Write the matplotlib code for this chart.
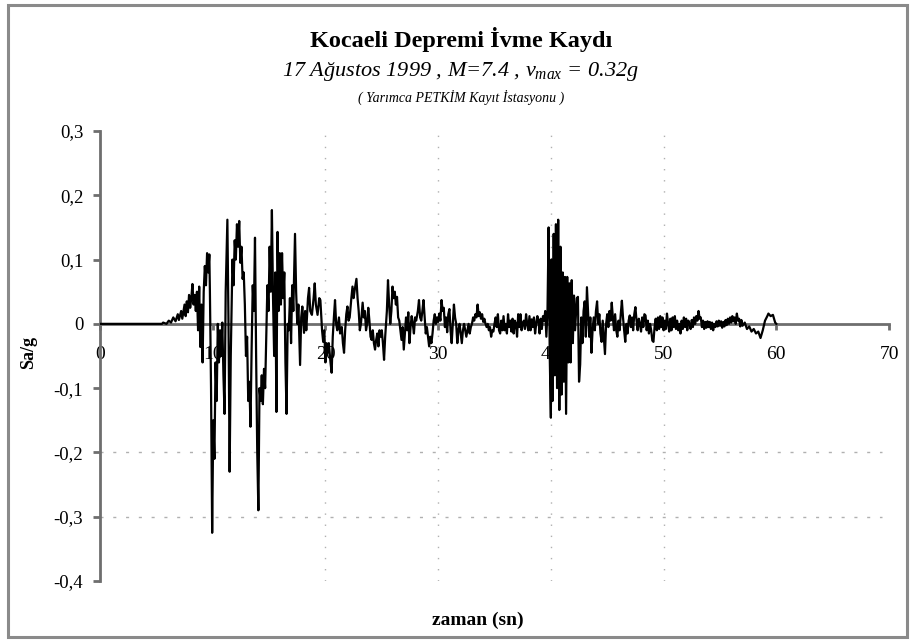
import matplotlib
matplotlib.use("Agg")
import matplotlib.pyplot as plt
from matplotlib.patches import Rectangle

# ---------------- data ----------------
# each segment: (time in s, acceleration in g)
quiet = [(0.0, 0.0), (5.5, 0.0)]

onset = [(5.6, 0.002), (5.9, 0.000), (6.1, 0.005), (6.3, 0.002), (6.5, 0.010), (6.7, 0.004),
         (6.9, 0.015), (7.0, 0.006), (7.2, 0.020), (7.3, 0.008), (7.5, 0.030), (7.6, 0.012),
         (7.7, 0.035), (7.8, 0.018), (7.9, 0.045), (8.0, 0.025), (8.1, 0.040), (8.2, 0.062),
         (8.3, 0.030), (8.4, 0.045), (8.5, 0.020), (8.6, 0.050), (8.7, -0.010), (8.8, 0.058),
         (8.9, -0.036), (9.0, 0.030), (9.1, -0.060), (9.2, 0.050), (9.3, 0.090), (9.4, 0.060),
         (9.5, 0.110), (9.6, 0.080), (9.7, 0.108)]

main_shock = [(9.75, 0.050), (9.85, -0.100), (9.95, -0.325), (10.05, -0.150), (10.15, -0.210),
              (10.25, -0.060), (10.35, -0.120), (10.45, 0.000), (10.55, -0.060), (10.65, -0.010),
              (10.75, -0.050), (10.85, 0.002), (10.95, -0.080), (11.05, -0.140), (11.15, 0.050),
              (11.3, 0.162), (11.4, 0.000), (11.5, -0.230), (11.6, -0.050), (11.75, 0.100),
              (11.85, 0.060), (11.95, 0.130), (12.05, 0.100), (12.15, 0.155), (12.25, 0.120),
              (12.35, 0.160), (12.45, 0.095), (12.55, 0.120), (12.65, 0.070), (12.75, 0.080),
              (12.85, 0.030), (12.95, -0.050), (13.05, -0.020), (13.15, -0.120), (13.25, -0.090),
              (13.35, -0.160), (13.45, -0.040), (13.55, 0.060), (13.65, 0.020), (13.75, 0.134),
              (13.85, -0.050), (13.95, -0.200), (14.05, -0.290), (14.15, -0.100), (14.25, -0.120),
              (14.35, -0.080), (14.45, -0.125), (14.55, -0.070), (14.65, -0.100), (14.75, -0.020),
              (14.85, 0.060), (14.95, 0.020), (15.05, 0.120), (15.15, 0.050), (15.25, 0.177),
              (15.35, 0.040), (15.45, -0.050), (15.55, 0.080), (15.65, -0.137), (15.75, 0.143),
              (15.85, 0.020), (15.95, 0.110), (16.05, 0.030), (16.15, 0.110), (16.25, 0.040),
              (16.35, 0.080), (16.45, -0.060), (16.55, -0.140), (16.65, 0.000), (16.75, -0.010),
              (16.85, 0.040), (16.95, -0.030), (17.05, 0.060), (17.15, 0.020), (17.3, 0.140),
              (17.4, 0.050), (17.5, 0.000), (17.6, 0.030), (17.75, -0.064), (17.85, 0.010),
              (17.95, 0.027)]

coda_1 = [(18.1, -0.014), (18.2, 0.020), (18.3, -0.010), (18.45, 0.040), (18.55, 0.056),
          (18.65, 0.020), (18.8, 0.014), (18.95, 0.040), (19.05, 0.063), (19.15, 0.030),
          (19.3, 0.014), (19.45, 0.040), (19.55, 0.037), (19.7, -0.010), (19.8, -0.028),
          (19.9, -0.010), (20.0, -0.060), (20.1, -0.030), (20.2, -0.045), (20.3, -0.030),
          (20.45, -0.060), (20.55, -0.076), (20.65, -0.020), (20.75, 0.010), (20.85, 0.037),
          (20.95, 0.000), (21.05, -0.010), (21.2, 0.010), (21.3, -0.015), (21.45, -0.005),
          (21.55, -0.030), (21.65, -0.045), (21.75, -0.010), (21.85, 0.015), (21.95, 0.027),
          (22.05, 0.005), (22.15, 0.010), (22.3, 0.040), (22.4, 0.058), (22.5, 0.040),
          (22.6, 0.053), (22.75, 0.070), (22.85, 0.040), (22.95, 0.020), (23.05, -0.010),
          (23.15, 0.000), (23.3, 0.033), (23.4, 0.010), (23.5, 0.020), (23.6, -0.010),
          (23.7, 0.000), (23.8, 0.025), (23.9, 0.005), (24.0, -0.020), (24.1, -0.025),
          (24.2, -0.010), (24.3, -0.030), (24.4, -0.040), (24.5, -0.025), (24.6, -0.015),
          (24.7, -0.035), (24.8, -0.010), (24.9, -0.020), (25.0, -0.010), (25.1, -0.030),
          (25.2, -0.056), (25.3, -0.020), (25.45, 0.020), (25.55, 0.068), (25.65, 0.030),
          (25.75, 0.000), (25.85, 0.020), (25.95, 0.058), (26.05, 0.040), (26.15, 0.050),
          (26.25, 0.030), (26.35, 0.042), (26.45, 0.010), (26.55, 0.005), (26.65, -0.010),
          (26.75, -0.025), (26.85, -0.005), (26.95, -0.040), (27.05, -0.015), (27.15, 0.010),
          (27.25, -0.010), (27.35, 0.018), (27.45, -0.030), (27.55, -0.005), (27.65, 0.012),
          (27.75, 0.000), (27.85, -0.015), (27.95, 0.010), (28.05, 0.005), (28.2, 0.020),
          (28.3, 0.037), (28.4, 0.010), (28.5, 0.005), (28.6, 0.020), (28.7, 0.037),
          (28.8, 0.010), (28.9, -0.015), (29.0, -0.005), (29.1, -0.020), (29.2, -0.035),
          (29.3, -0.020), (29.4, -0.030), (29.5, -0.015), (29.6, 0.005), (29.7, 0.015),
          (29.8, 0.000), (29.9, 0.010), (30.0, 0.003), (30.1, 0.016), (30.2, 0.005),
          (30.3, 0.037), (30.4, 0.020), (30.5, 0.025), (30.6, -0.005), (30.7, 0.010),
          (30.8, -0.013), (30.9, 0.015), (31.0, 0.023), (31.1, -0.010), (31.2, -0.030),
          (31.3, 0.000), (31.4, 0.030), (31.5, 0.010), (31.6, 0.000), (31.7, -0.030),
          (31.8, -0.010), (31.9, 0.000), (32.0, -0.015), (32.1, -0.030), (32.2, -0.010),
          (32.3, 0.000), (32.4, -0.010), (32.5, -0.020), (32.6, -0.010), (32.7, 0.000),
          (32.8, -0.015), (32.9, -0.005), (33.0, 0.000), (33.1, 0.010), (33.2, 0.005),
          (33.3, 0.015), (33.4, 0.010), (33.5, 0.030), (33.6, 0.012), (33.7, 0.018),
          (33.8, 0.008), (33.9, 0.015), (34.0, 0.003), (34.1, 0.008), (34.2, 0.000),
          (34.3, -0.005), (34.4, 0.000), (34.5, -0.010), (34.6, -0.005), (34.7, -0.020),
          (34.8, -0.010), (34.9, -0.012), (35.0, 0.000), (35.1, 0.010), (35.2, -0.005),
          (35.3, 0.015), (35.4, -0.010), (35.5, -0.015), (35.6, 0.005), (35.7, -0.010),
          (35.8, 0.012), (35.9, -0.010), (36.0, 0.000), (36.1, -0.015), (36.2, 0.015),
          (36.3, -0.005), (36.4, 0.005), (36.5, -0.012), (36.6, 0.008), (36.7, -0.015),
          (36.8, 0.005), (36.9, 0.000), (37.0, -0.020), (37.1, 0.015), (37.2, -0.005),
          (37.3, 0.015), (37.4, -0.010), (37.5, 0.000), (37.6, 0.005), (37.7, -0.008),
          (37.8, 0.015), (37.9, 0.000), (38.0, -0.010), (38.1, 0.012), (38.2, -0.010),
          (38.3, 0.007), (38.4, -0.005), (38.5, 0.010), (38.6, -0.015), (38.7, 0.000),
          (38.8, 0.012), (38.9, 0.005), (39.0, -0.015), (39.1, 0.008), (39.2, -0.008),
          (39.3, 0.012), (39.4, 0.005), (39.5, 0.020), (39.6, -0.020), (39.7, 0.020)]

second_burst = [(39.8, 0.150), (39.9, -0.050), (40.0, -0.146), (40.05, 0.100), (40.15, -0.120),
                (40.25, 0.140), (40.35, -0.080), (40.45, 0.155), (40.55, -0.100), (40.65, 0.162),
                (40.75, -0.134), (40.85, 0.120), (40.95, -0.110), (41.05, 0.080), (41.15, -0.090),
                (41.25, 0.073), (41.35, -0.140), (41.45, 0.073), (41.55, -0.060), (41.65, 0.063),
                (41.75, -0.060), (41.85, 0.068), (41.95, -0.030), (42.05, 0.044), (42.15, -0.010),
                (42.3, 0.040), (42.4, 0.042), (42.5, -0.090), (42.6, -0.063), (42.7, 0.010),
                (42.8, -0.030), (42.9, 0.020), (43.0, 0.035), (43.1, -0.020), (43.2, 0.057),
                (43.3, 0.020), (43.4, -0.020), (43.5, 0.010), (43.6, -0.045), (43.7, -0.010),
                (43.8, 0.010), (43.9, -0.010), (44.0, 0.020), (44.1, 0.035), (44.2, 0.000),
                (44.3, 0.015), (44.4, -0.015), (44.5, -0.028), (44.6, 0.005), (44.7, -0.020),
                (44.8, -0.047), (44.9, 0.000), (45.0, 0.015), (45.1, -0.005), (45.2, 0.020),
                (45.3, 0.005), (45.4, 0.033), (45.5, 0.010), (45.6, -0.010), (45.7, 0.015),
                (45.8, -0.010), (45.9, -0.020)]

coda_2 = [(46.0, 0.005), (46.1, -0.010), (46.2, 0.015), (46.3, 0.036), (46.4, 0.010),
          (46.5, -0.010), (46.6, -0.028), (46.7, 0.000), (46.8, -0.015), (46.9, 0.005),
          (47.0, 0.013), (47.1, -0.005), (47.2, 0.010), (47.3, -0.010), (47.4, 0.015),
          (47.5, 0.026), (47.6, 0.005), (47.7, -0.010), (47.8, 0.008), (47.9, 0.000),
          (48.0, -0.012), (48.1, 0.010), (48.2, -0.005), (48.3, 0.015), (48.4, 0.013),
          (48.5, -0.010), (48.6, 0.005), (48.7, -0.015), (48.8, 0.000), (48.9, -0.010),
          (49.0, -0.026), (49.1, -0.028), (49.2, -0.005), (49.3, 0.008), (49.4, -0.010),
          (49.5, 0.010), (49.6, -0.008), (49.7, 0.012), (49.8, -0.005), (49.9, 0.010),
          (50.0, -0.010), (50.1, 0.005), (50.2, -0.008), (50.3, 0.016), (50.4, 0.000),
          (50.5, -0.012), (50.6, 0.008), (50.7, -0.010), (50.8, 0.010), (50.9, -0.005),
          (51.0, 0.012), (51.1, -0.008), (51.2, 0.005), (51.3, -0.010), (51.4, 0.000),
          (51.5, -0.015), (51.6, 0.005), (51.7, -0.008), (51.8, 0.010), (51.9, -0.005),
          (52.0, 0.008), (52.1, -0.010), (52.2, 0.005), (52.3, 0.000), (52.4, -0.008),
          (52.5, 0.006), (52.6, -0.005), (52.7, 0.010), (52.8, 0.000), (52.9, 0.012),
          (53.0, 0.005), (53.1, 0.020), (53.2, 0.008), (53.3, 0.010), (53.4, -0.005),
          (53.5, 0.005), (53.6, -0.008), (53.7, 0.003), (53.8, -0.006), (53.9, 0.004),
          (54.0, -0.005), (54.1, 0.003), (54.2, -0.008), (54.3, 0.002), (54.4, -0.010),
          (54.5, 0.000), (54.6, -0.005), (54.7, 0.004), (54.8, -0.004), (54.9, 0.005),
          (55.0, -0.003), (55.1, 0.004), (55.2, -0.006), (55.3, 0.003), (55.4, -0.004),
          (55.5, 0.006), (55.6, -0.002), (55.7, 0.008), (55.8, 0.000), (55.9, 0.010),
          (56.0, 0.002), (56.1, 0.012), (56.2, 0.004), (56.3, 0.010), (56.4, 0.000),
          (56.5, 0.016), (56.6, 0.005), (56.7, 0.008), (56.8, -0.004), (56.9, 0.006),
          (57.0, -0.003), (57.2, 0.002), (57.4, -0.008), (57.6, -0.004), (57.8, -0.012),
          (58.0, -0.008), (58.2, -0.015), (58.4, -0.012), (58.6, -0.022), (58.8, -0.010),
          (59.0, 0.005), (59.2, 0.012), (59.3, 0.016), (59.5, 0.012), (59.7, 0.014),
          (59.9, 0.002), (60.0, 0.000)]

x_ticks = [0, 10, 20, 30, 40, 50, 60, 70]
y_ticks = [-0.4, -0.3, -0.2, -0.1, 0.0, 0.1, 0.2, 0.3]
y_tick_labels = ["-0,4", "-0,3", "-0,2", "-0,1", "0", "0,1", "0,2", "0,3"]
x_grid = [20, 30, 40, 50]
y_grid = [-0.2, -0.3]

title_1 = "Kocaeli Depremi İvme Kaydı"
title_2 = "17 Ağustos 1999 , M=7.4 , $v_{max}$ = 0.32g"
title_3 = "( Yarımca PETKİM Kayıt İstasyonu )"
x_label = "zaman (sn)"
y_label = "Sa/g"

# ---------------- drawing ----------------
plt.rcParams["font.family"] = ["Liberation Serif", "DejaVu Serif"]
plt.rcParams["mathtext.fontset"] = "custom"
plt.rcParams["mathtext.rm"] = "Liberation Serif"
plt.rcParams["mathtext.it"] = "Liberation Serif:italic"

record = quiet + onset + main_shock + coda_1 + second_burst + coda_2
time_s = [p[0] for p in record]
accel_g = [p[1] for p in record]

fig = plt.figure(figsize=(9.15, 6.44), dpi=100)
fig.patches.append(Rectangle((0.009, 0.011), 0.982, 0.981, transform=fig.transFigure,
                             fill=False, edgecolor="#8a8a8a", linewidth=2.2))

ax = fig.add_axes([0.1093, 0.0978, 0.8623, 0.6988])
ax.set_xlim(0, 70)
ax.set_ylim(-0.4, 0.3)

# grid (only the lines visible in the reference)
for xv in x_grid:
    ax.axvline(xv, color="#b0b0b0", linestyle=(0, (1, 7)), linewidth=1.0, zorder=0)
for yv in y_grid:
    ax.hlines(yv, 0, 69.4, color="#b0b0b0", linestyles=[(0, (2.2, 7))], linewidth=1.0,
              zorder=0)

ax.plot(time_s, accel_g, color="black", linewidth=1.6, zorder=3)

for s in ["top", "right"]:
    ax.spines[s].set_visible(False)
ax.spines["bottom"].set_position(("data", 0))
ax.spines["left"].set_color("#6e6e6e")
ax.spines["bottom"].set_color("#6e6e6e")
ax.spines["left"].set_linewidth(2.0)
ax.spines["bottom"].set_linewidth(2.0)

ax.set_xticks(x_ticks)
ax.set_xticklabels([str(v) for v in x_ticks])
ax.set_yticks(y_ticks)
ax.set_yticklabels(y_tick_labels)
ax.tick_params(axis="y", direction="out", length=5, width=2.0, color="#6e6e6e",
               labelsize=13.5, pad=7)
ax.tick_params(axis="x", direction="out", length=4, width=2.0, color="#6e6e6e",
               labelsize=14, pad=12)

fig.text(0.5035, 0.939, title_1, ha="center", va="center", fontsize=17.5, fontweight="bold")
fig.text(0.5035, 0.889, title_2, ha="center", va="center", fontsize=16, style="italic")
fig.text(0.5035, 0.848, title_3, ha="center", va="center", fontsize=10, style="italic")

fig.text(0.5225, 0.037, x_label, ha="center", va="center", fontsize=14, fontweight="bold")
fig.text(0.031, 0.453, y_label, ha="center", va="center", fontsize=13, fontweight="bold",
         rotation=90)

fig.savefig("out.png", dpi=100)
